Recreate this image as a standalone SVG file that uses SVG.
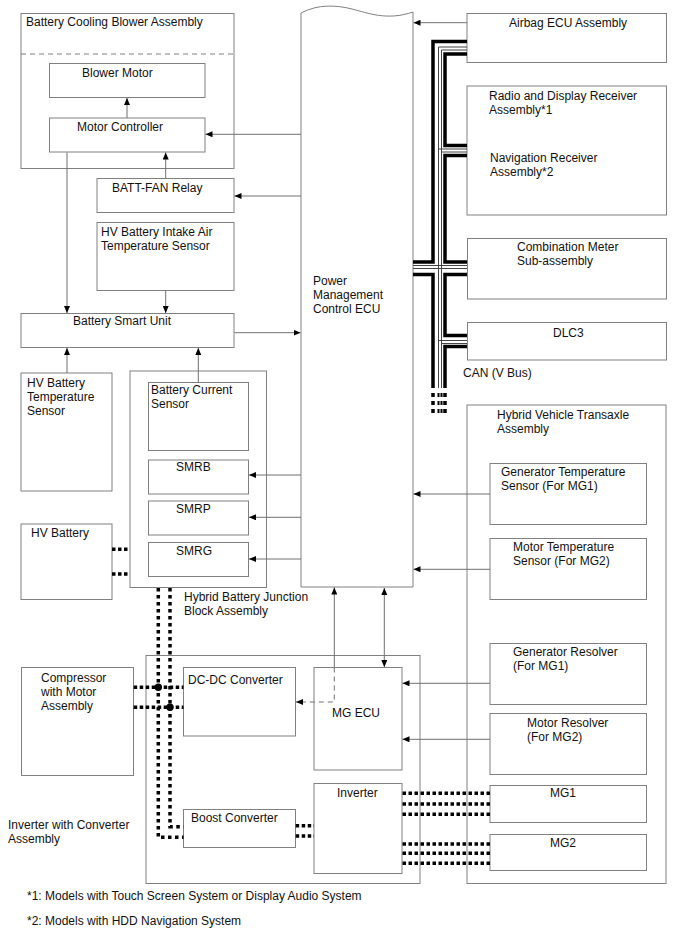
<svg xmlns="http://www.w3.org/2000/svg" width="688" height="949" viewBox="0 0 688 949">
<style>
  .box{fill:none;stroke:#808080;stroke-width:1}
  text{font-family:"Liberation Sans",Arial,sans-serif;font-size:12px;fill:#111}
  .ln{fill:none;stroke:#707070;stroke-width:1}
  .arr{marker-end:url(#ah)}
  .dash{fill:none;stroke:#808080;stroke-width:1;stroke-dasharray:5 4}
  .pw{fill:none;stroke:#000;stroke-width:3.5;stroke-dasharray:3.5 3.5}
  .pwh{fill:none;stroke:#000;stroke-width:3.5;stroke-dasharray:3.5 2.5}
  .bus{fill:none;stroke:#000;stroke-width:3.5;stroke-linejoin:miter}
  .bthin{fill:none;stroke:#444;stroke-width:1}
</style>
<defs>
  <marker id="ah" markerUnits="userSpaceOnUse" markerWidth="8" markerHeight="6" refX="7" refY="3" orient="auto-start-reverse">
    <path d="M0,0 L7,3 L0,6 z" fill="#000"/>
  </marker>
</defs>
<rect width="688" height="949" fill="#fff"/>

<g id="battery-cooling-blower-assembly">
  <rect class="box" x="21" y="13.5" width="213" height="155"/>
  <line class="dash" x1="21" y1="54" x2="234" y2="54"/>
  <text x="26" y="26">Battery Cooling Blower Assembly</text>
</g>
<g id="blower-motor">
  <rect class="box" x="49.5" y="63.5" width="155.5" height="34"/>
  <text x="82" y="77">Blower Motor</text>
</g>
<g id="motor-controller">
  <rect class="box" x="49.5" y="118" width="155.5" height="34"/>
  <text x="77" y="130.5">Motor Controller</text>
</g>
<g id="batt-fan-relay">
  <rect class="box" x="97" y="178.5" width="137" height="34"/>
  <text x="112" y="191.5">BATT-FAN Relay</text>
</g>
<g id="hv-battery-intake-air-temperature-sensor">
  <rect class="box" x="97" y="222.5" width="137" height="68"/>
  <text x="101" y="235.5">HV Battery Intake Air</text>
  <text x="101" y="249.5">Temperature Sensor</text>
</g>
<g id="battery-smart-unit">
  <rect class="box" x="21" y="313.5" width="213" height="34"/>
  <text x="73" y="325">Battery Smart Unit</text>
</g>
<g id="hv-battery-temperature-sensor">
  <rect class="box" x="21" y="373" width="91" height="118"/>
  <text x="27" y="387">HV Battery</text>
  <text x="27" y="401">Temperature</text>
  <text x="27" y="415">Sensor</text>
</g>
<g id="hybrid-battery-junction-block-assembly">
  <rect class="box" x="130" y="371" width="136.5" height="216.5"/>
  <text x="184" y="600.5">Hybrid Battery Junction</text>
  <text x="184" y="614.5">Block Assembly</text>
</g>
<g id="battery-current-sensor">
  <rect class="box" x="148.5" y="382.5" width="100" height="68"/>
  <text x="151" y="394">Battery Current</text>
  <text x="151" y="408">Sensor</text>
</g>
<g id="smrb">
  <rect class="box" x="148.5" y="460" width="100" height="34"/>
  <text x="176" y="471">SMRB</text>
</g>
<g id="smrp">
  <rect class="box" x="148.5" y="501" width="100" height="34"/>
  <text x="176" y="512.7">SMRP</text>
</g>
<g id="smrg">
  <rect class="box" x="148.5" y="542.5" width="100" height="34"/>
  <text x="176" y="554.5">SMRG</text>
</g>
<g id="hv-battery">
  <rect class="box" x="21" y="524" width="91" height="75.5"/>
  <text x="31" y="537">HV Battery</text>
</g>

<g id="power-management-control-ecu">
  <path class="box" d="M301,587 V13 C318,4 336,5 352,9 S387,21 413,12 V587 Z"/>
  <text x="313" y="285">Power</text>
  <text x="313" y="299">Management</text>
  <text x="313" y="313">Control ECU</text>
</g>

<g id="airbag-ecu-assembly">
  <rect class="box" x="467" y="13.5" width="199.5" height="49"/>
  <text x="509" y="27">Airbag ECU Assembly</text>
</g>
<g id="radio-navigation-receiver-assembly">
  <rect class="box" x="467" y="86" width="199.5" height="129"/>
  <text x="489" y="99.5">Radio and Display Receiver</text>
  <text x="489" y="113.5">Assembly*1</text>
  <text x="490" y="161.5">Navigation Receiver</text>
  <text x="490" y="175.5">Assembly*2</text>
</g>
<g id="combination-meter-sub-assembly">
  <rect class="box" x="467.5" y="238.5" width="199" height="60.5"/>
  <text x="517" y="250.5">Combination Meter</text>
  <text x="517" y="264.5">Sub-assembly</text>
</g>
<g id="dlc3">
  <rect class="box" x="467.5" y="322.5" width="199" height="37.5"/>
  <text x="553" y="336.5">DLC3</text>
</g>
<g id="can-label">
  <text x="463" y="377">CAN (V Bus)</text>
</g>

<g id="hybrid-vehicle-transaxle-assembly">
  <rect class="box" x="467" y="405" width="199" height="478.5"/>
  <text x="497" y="418.7">Hybrid Vehicle Transaxle</text>
  <text x="497" y="432.7">Assembly</text>
</g>
<g id="generator-temperature-sensor">
  <rect class="box" x="490" y="463.5" width="156.5" height="61"/>
  <text x="501" y="475.5">Generator Temperature</text>
  <text x="501" y="489.5">Sensor (For MG1)</text>
</g>
<g id="motor-temperature-sensor">
  <rect class="box" x="490" y="538.5" width="156.5" height="61"/>
  <text x="513" y="550.5">Motor Temperature</text>
  <text x="513" y="564.5">Sensor (For MG2)</text>
</g>
<g id="generator-resolver">
  <rect class="box" x="490" y="643.5" width="156.5" height="61"/>
  <text x="513" y="655.5">Generator Resolver</text>
  <text x="513" y="669.5">(For MG1)</text>
</g>
<g id="motor-resolver">
  <rect class="box" x="490" y="713.5" width="156.5" height="61"/>
  <text x="527" y="726.5">Motor Resolver</text>
  <text x="527" y="740.5">(For MG2)</text>
</g>
<g id="mg1">
  <rect class="box" x="490" y="785.5" width="156.5" height="37"/>
  <text x="550" y="797">MG1</text>
</g>
<g id="mg2">
  <rect class="box" x="490" y="834.5" width="156.5" height="36"/>
  <text x="550" y="847">MG2</text>
</g>

<g id="inverter-with-converter-assembly">
  <rect class="box" x="146" y="655.5" width="274" height="228"/>
  <text x="8" y="828.7">Inverter with Converter</text>
  <text x="8" y="842.7">Assembly</text>
</g>
<g id="dc-dc-converter">
  <rect class="box" x="183.5" y="667.5" width="112" height="68.5"/>
  <text x="188" y="683.7">DC-DC Converter</text>
</g>
<g id="mg-ecu">
  <rect class="box" x="314" y="667.5" width="88" height="102.5"/>
  <text x="332" y="717">MG ECU</text>
</g>
<g id="inverter">
  <rect class="box" x="314" y="783.5" width="88" height="90"/>
  <text x="337" y="796.5">Inverter</text>
</g>
<g id="boost-converter">
  <rect class="box" x="183.5" y="809.5" width="112" height="38"/>
  <text x="191" y="821.5">Boost Converter</text>
</g>
<g id="compressor-with-motor-assembly">
  <rect class="box" x="21.5" y="667.5" width="112" height="108"/>
  <text x="41" y="681.5">Compressor</text>
  <text x="41" y="695.5">with Motor</text>
  <text x="41" y="709.5">Assembly</text>
</g>

<g id="footnotes">
  <text x="27" y="899.5">*1: Models with Touch Screen System or Display Audio System</text>
  <text x="27" y="924.8">*2: Models with HDD Navigation System</text>
</g>

<g id="connectors">
  <!-- signal lines -->
  <line class="ln arr" x1="127" y1="118" x2="127" y2="98"/>
  <line class="ln arr" x1="301" y1="134.3" x2="205.5" y2="134.3"/>
  <line class="ln arr" x1="165.7" y1="178.5" x2="165.7" y2="152.5"/>
  <line class="ln arr" x1="301" y1="196" x2="234.5" y2="196"/>
  <line class="ln arr" x1="67" y1="152.5" x2="67" y2="313"/>
  <line class="ln arr" x1="165.7" y1="290.5" x2="165.7" y2="313"/>
  <line class="ln arr" x1="234.5" y1="332.7" x2="300.5" y2="332.7"/>
  <line class="ln arr" x1="67" y1="373" x2="67" y2="348"/>
  <line class="ln arr" x1="198.3" y1="382.5" x2="198.3" y2="348"/>
  <line class="ln arr" x1="301" y1="475" x2="249" y2="475"/>
  <line class="ln arr" x1="301" y1="517.3" x2="249" y2="517.3"/>
  <line class="ln arr" x1="301" y1="559" x2="249" y2="559"/>
  <line class="ln arr" x1="467" y1="22.7" x2="413.5" y2="22.7"/>
  <line class="ln arr" x1="490" y1="494" x2="413.5" y2="494"/>
  <line class="ln arr" x1="490" y1="569.3" x2="413.5" y2="569.3"/>
  <line class="ln arr" x1="490" y1="683.3" x2="402.5" y2="683.3"/>
  <line class="ln arr" x1="490" y1="739.3" x2="402.5" y2="739.3"/>
  <line class="ln arr" x1="334.3" y1="667.5" x2="334.3" y2="587.5"/>
  <path class="ln" d="M334.3,667.5 V702 H297" stroke-dasharray="5 4"/>
  <line class="ln arr" x1="300" y1="702" x2="296" y2="702"/>
  <line class="ln" x1="384.3" y1="588" x2="384.3" y2="667" marker-start="url(#ah)" marker-end="url(#ah)"/>

  <!-- power lines -->
  <line class="pwh" x1="112" y1="549.3" x2="130" y2="549.3"/>
  <line class="pwh" x1="112" y1="574" x2="130" y2="574"/>
  <path class="pw" d="M158.3,588 V837.3 H183.5"/>
  <path class="pw" d="M170,588 V826.7 H183.5"/>
  <line class="pwh" x1="133.7" y1="687.3" x2="183.5" y2="687.3"/>
  <line class="pwh" x1="133.7" y1="707.3" x2="183.5" y2="707.3"/>
  <circle cx="158.3" cy="687.3" r="3.7" fill="#000"/>
  <circle cx="170" cy="707.3" r="3.7" fill="#000"/>
  <line class="pwh" x1="295.7" y1="825.7" x2="314" y2="825.7"/>
  <line class="pwh" x1="295.7" y1="836" x2="314" y2="836"/>
  <line class="pwh" x1="402.5" y1="793.3" x2="490" y2="793.3"/>
  <line class="pwh" x1="402.5" y1="804" x2="490" y2="804"/>
  <line class="pwh" x1="402.5" y1="814.3" x2="490" y2="814.3"/>
  <line class="pwh" x1="402.5" y1="844" x2="490" y2="844"/>
  <line class="pwh" x1="402.5" y1="853.3" x2="490" y2="853.3"/>
  <line class="pwh" x1="402.5" y1="863.3" x2="490" y2="863.3"/>

  <!-- CAN bus -->
  <path class="bus" d="M467,41.5 H433 V262 H413"/>
  <path class="bus" d="M413,274.5 H433 V388"/>
  <path class="bus" d="M467,54 H445 V145.5 H467"/>
  <path class="bus" d="M467,155.5 H445 V262 H467"/>
  <path class="bus" d="M467,274.5 H445 V335.5 H467"/>
  <path class="bus" d="M467,346.5 H445 V388"/>
  <path class="bthin" d="M467,47 H438.5 V388"/>
  <path class="bthin" d="M467,50 H441.5 V388"/>
  <path class="bthin" d="M438.5,149 H467 M441.5,152 H467"/>
  <path class="bthin" d="M413,265.5 H467 M413,268.5 H467"/>
  <path class="bthin" d="M438.5,340.5 H467 M441.5,343.5 H467"/>
  <g stroke="#000" stroke-dasharray="4 4" fill="none">
    <line x1="433" y1="393" x2="433" y2="414" stroke-width="3.5"/>
    <line x1="438.5" y1="393" x2="438.5" y2="414" stroke-width="2"/>
    <line x1="441.5" y1="393" x2="441.5" y2="414" stroke-width="2"/>
    <line x1="445" y1="393" x2="445" y2="414" stroke-width="3.5"/>
  </g>
</g>
</svg>
